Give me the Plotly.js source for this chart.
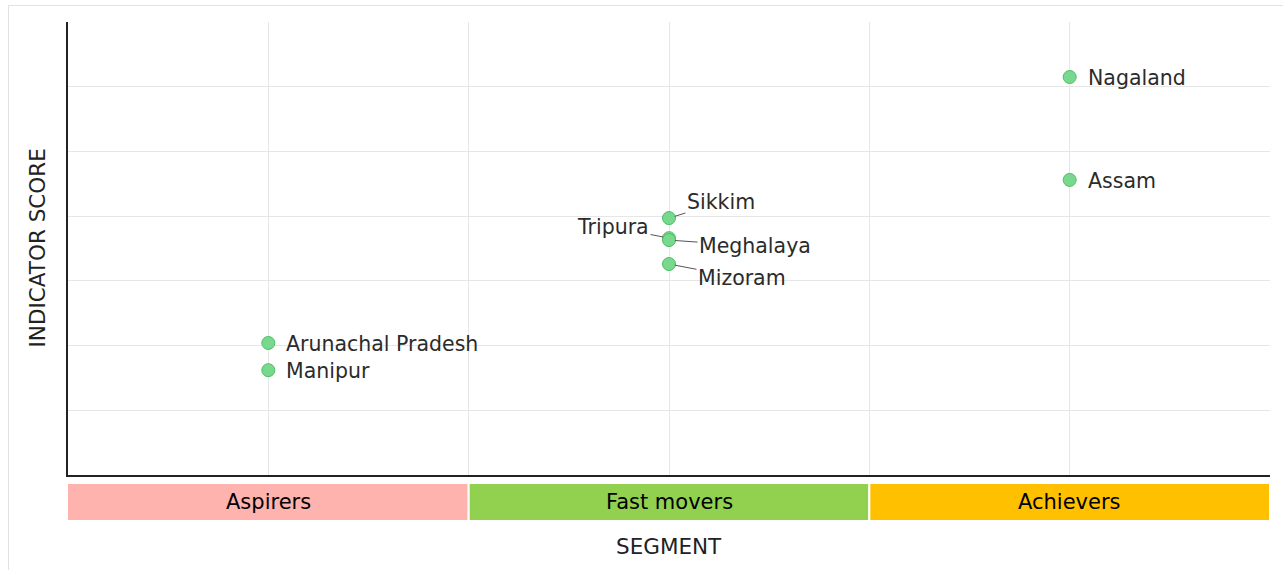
<!DOCTYPE html>
<html>
<head>
<meta charset="utf-8">
<script src="https://cdn.plot.ly/plotly-3.0.1.min.js"></script>
<style>
  html, body { margin: 0; padding: 0; background: #ffffff; }
  #frame { position: absolute; left: 8px; top: 5px; width: 1300px; height: 600px; border: 1px solid #e2e2e6; box-sizing: border-box; }
  #chart { position: absolute; left: 0; top: 0; width: 1283px; height: 570px; }
</style>
</head>
<body>
<div id="frame"></div>
<div id="chart"></div>
<script>
// ---- data ----
const segments = ['Aspirers', 'Fast movers', 'Achievers'];
const segmentColors = ['#ffb3ae', '#92d050', '#ffc000'];
const states = ['Arunachal Pradesh', 'Manipur', 'Sikkim', 'Tripura', 'Meghalaya', 'Mizoram', 'Nagaland', 'Assam'];
const stateSegments = ['Aspirers', 'Aspirers', 'Fast movers', 'Fast movers', 'Fast movers', 'Fast movers', 'Achievers', 'Achievers'];
const scores = [2.04, 1.62, 3.97, 3.66, 3.63, 3.26, 6.15, 4.56];

// label placement (pixel offsets), styling only
const labelOffsets = {
  'Arunachal Pradesh': null, 'Manipur': null, 'Nagaland': null, 'Assam': null,
  'Sikkim': [52, -16], 'Tripura': [-56, -11], 'Meghalaya': [86, 6], 'Mizoram': [73, 14]
};

const segWidth = 2;
const segCenter = s => segments.indexOf(s) * segWidth + segWidth / 2;
const xs = stateSegments.map(segCenter);

const font = "'DejaVu Sans', 'Noto Sans', sans-serif";

const trace = {
  type: 'scatter', mode: 'markers',
  x: xs, y: scores, text: states,
  hoverinfo: 'text',
  marker: { size: 13, color: '#78d98e', line: { color: '#4cbf66', width: 1 } },
  showlegend: false
};

const shapes = [];
const annotations = [];
segments.forEach((s, i) => {
  shapes.push({
    type: 'rect', xref: 'x', yref: 'paper',
    x0: i * segWidth - (i === 0 ? 0.005 : 0), x1: (i + 1) * segWidth, y0: -0.1015, y1: -0.0177,
    fillcolor: segmentColors[i], line: { color: '#ffffff', width: 2 }, layer: 'above'
  });
  annotations.push({
    xref: 'x', yref: 'paper', x: i * segWidth + segWidth / 2, y: -0.0596,
    text: s, showarrow: false, xanchor: 'center', yanchor: 'middle',
    font: { family: font, size: 21, color: '#000000' }
  });
});

states.forEach((st, i) => {
  const off = labelOffsets[st];
  if (off) {
    annotations.push({
      x: xs[i], y: scores[i], text: st, showarrow: true,
      ax: off[0], ay: off[1], arrowhead: 0, arrowwidth: 1, arrowcolor: '#555555',
      standoff: 6, startstandoff: 0,
      font: { family: font, size: 20.5, color: '#2b2b2b' }
    });
  } else {
    annotations.push({
      x: xs[i], y: scores[i], text: st, showarrow: false,
      xanchor: 'left', yanchor: 'middle', xshift: 16, yshift: -1,
      font: { family: font, size: 20.5, color: '#2b2b2b' }
    });
  }
});

annotations.push({
  xref: 'paper', yref: 'paper', x: 0.5, y: -0.157, text: 'SEGMENT',
  showarrow: false, xanchor: 'center', yanchor: 'middle',
  font: { family: font, size: 21.5, color: '#222222' }
});
annotations.push({
  xref: 'paper', yref: 'paper', x: -0.025, y: 0.502, text: 'INDICATOR SCORE',
  showarrow: false, textangle: -90, xanchor: 'center', yanchor: 'middle',
  font: { family: font, size: 21.5, color: '#222222' }
});

const layout = {
  width: 1283, height: 570,
  margin: { l: 68, r: 13, t: 22, b: 95 },
  paper_bgcolor: 'rgba(0,0,0,0)', plot_bgcolor: '#ffffff',
  xaxis: {
    range: [0, segments.length * segWidth], dtick: 1, tick0: 0,
    showticklabels: false, ticks: '', showgrid: true, gridcolor: '#e6e6e6', gridwidth: 1,
    zeroline: false, showline: true, linecolor: '#222222', linewidth: 2, mirror: false, fixedrange: true
  },
  yaxis: {
    range: [0, 7], dtick: 1, tick0: 0,
    showticklabels: false, ticks: '', showgrid: true, gridcolor: '#e6e6e6', gridwidth: 1,
    zeroline: false, showline: true, linecolor: '#222222', linewidth: 2, mirror: false, fixedrange: true
  },
  shapes: shapes,
  annotations: annotations,
  font: { family: font }
};

Plotly.newPlot('chart', [trace], layout, { displayModeBar: false, staticPlot: true });
</script>
</body>
</html>
